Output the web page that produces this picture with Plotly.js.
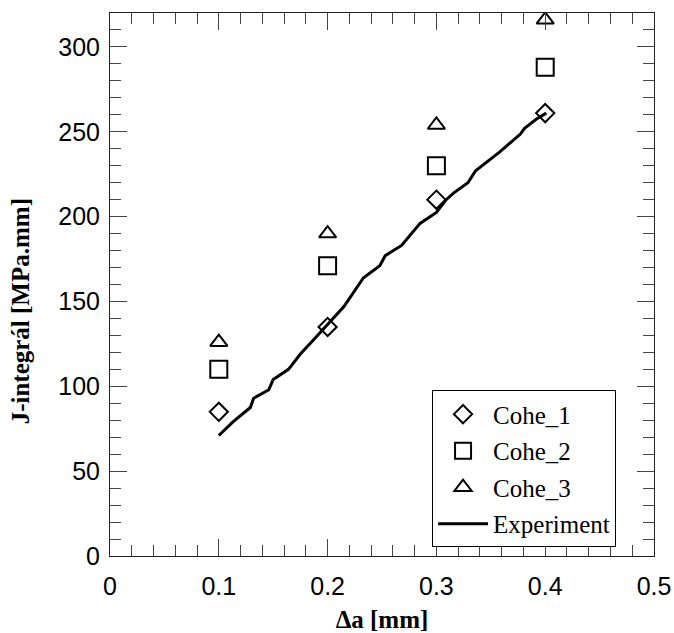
<!DOCTYPE html>
<html>
<head>
<meta charset="utf-8">
<script src="https://cdn.plot.ly/plotly-3.0.1.min.js"></script>
<style>html,body{margin:0;padding:0;background:#fff;}#chart{width:674px;height:633px;}</style>
</head>
<body>
<div id="chart"></div>
<script>
// Simulation results (Δa in mm, J in MPa.mm)
var cohe_x = [0.1, 0.2, 0.3, 0.4];
var cohe1_y = [85, 135, 210, 261];
var cohe2_y = [110, 171, 230, 288];
var cohe3_y = [126, 190, 254, 316];

// Experimental curve
var exp_x = [0.100, 0.113, 0.129, 0.132, 0.146, 0.150, 0.164, 0.175, 0.188, 0.201, 0.215, 0.233, 0.248, 0.253, 0.268, 0.285, 0.300, 0.309, 0.316, 0.329, 0.336, 0.358, 0.377, 0.381, 0.392, 0.401];
var exp_y = [71, 79, 87.5, 93, 98, 104, 110, 119, 128, 137, 147, 164, 171, 177, 183, 196, 202.5, 210, 214, 220, 227, 238, 248.5, 252, 257.5, 261];

var x_ticks = [0, 0.1, 0.2, 0.3, 0.4, 0.5];
var x_tick_labels = ['0', '0.1', '0.2', '0.3', '0.4', '0.5'];
var y_ticks = [0, 50, 100, 150, 200, 250, 300];
var y_tick_labels = ['0', '50', '100', '150', '200', '250', '300'];

var x_title = 'Δa [mm]';
var y_title = 'J-integrál [MPa.mm]';

var traces = [
  {x: cohe_x, y: cohe1_y, name: 'Cohe_1', mode: 'markers', type: 'scatter', legendgroup: 'a',
   marker: {symbol: 'diamond-open', size: 14, color: '#000', line: {width: 2, color: '#000'}}},
  {x: cohe_x, y: cohe2_y, name: 'Cohe_2', mode: 'markers', type: 'scatter', legendgroup: 'b',
   marker: {symbol: 'square-open', size: 17, color: '#000', line: {width: 2, color: '#000'}}},
  {x: cohe_x, y: cohe3_y, name: 'Cohe_3', mode: 'markers', type: 'scatter', legendgroup: 'c',
   marker: {symbol: 'triangle-up-open', size: 15, color: '#000', line: {width: 2, color: '#000'}}},
  {x: exp_x, y: exp_y, name: 'Experiment', mode: 'lines', type: 'scatter', legendgroup: 'd',
   line: {color: '#000', width: 3}}
];

var titleFont = {family: 'Liberation Serif, Times New Roman, serif', size: 25, color: '#000', weight: 'bold'};

var axisCommon = {
  showgrid: false, zeroline: false, showline: true, linecolor: '#222', linewidth: 1,
  mirror: 'ticks', ticks: 'inside', ticklen: 17, tickwidth: 1, tickcolor: '#444',
  tickfont: {family: 'Liberation Sans, Arial, sans-serif', size: 25, color: '#000'}
};

var layout = {
  width: 674, height: 633,
  margin: {l: 110, r: 20, t: 13, b: 77},
  paper_bgcolor: '#fff', plot_bgcolor: '#fff',
  showlegend: true,
  xaxis: Object.assign({}, axisCommon, {
    range: [0, 0.5], tickmode: 'array', tickvals: x_ticks, ticktext: x_tick_labels,
    ticklabelstandoff: 8,
    minor: {dtick: 0.02, ticklen: 11, tickcolor: '#444', ticks: 'inside'},
    title: {text: x_title, font: titleFont, standoff: 12}
  }),
  yaxis: Object.assign({}, axisCommon, {
    range: [0, 320], tickmode: 'array', tickvals: y_ticks, ticktext: y_tick_labels,
    ticklabelstandoff: 4,
    minor: {dtick: 10, ticklen: 11, tickcolor: '#444', ticks: 'inside'}
  }),
  annotations: [{
    text: y_title, textangle: -90, showarrow: false,
    xref: 'paper', yref: 'paper', x: -0.165, y: 0.451, xanchor: 'center', yanchor: 'middle',
    font: titleFont
  }],
  legend: {
    x: 0.592, y: 0.305, xanchor: 'left', yanchor: 'top',
    bgcolor: '#fff', bordercolor: '#000', borderwidth: 1,
    font: {family: 'Liberation Serif, Times New Roman, serif', size: 25, color: '#000'},
    traceorder: 'grouped', tracegroupgap: 1, itemwidth: 50,
    entrywidth: 190, entrywidthmode: 'pixels'
  }
};

Plotly.newPlot('chart', traces, layout, {displayModeBar: false, staticPlot: true});
</script>
</body>
</html>
